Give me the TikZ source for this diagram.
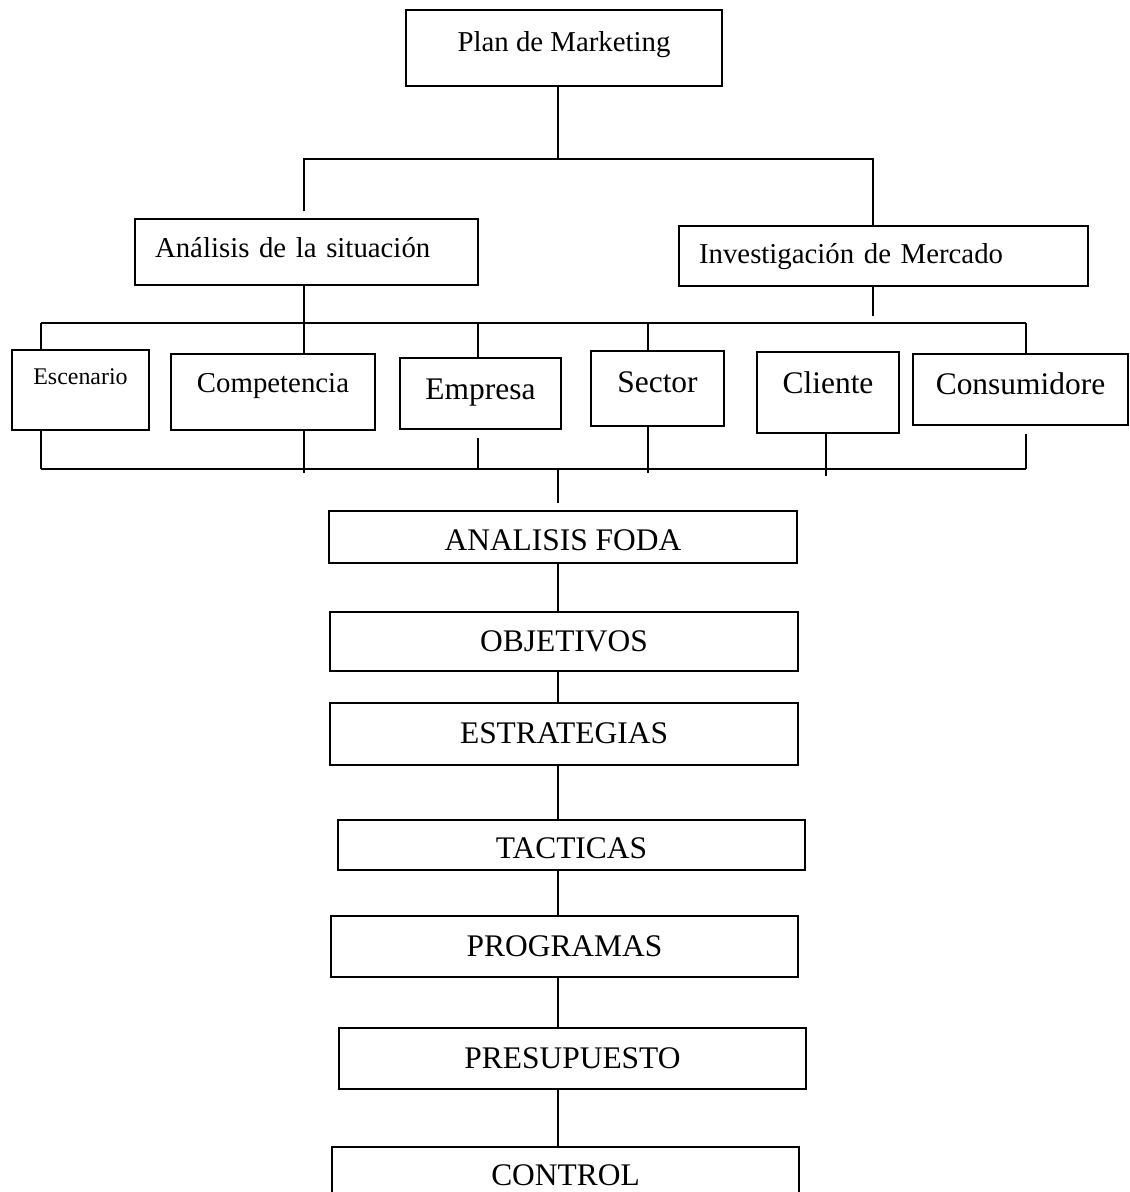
\documentclass[tikz,border=0pt]{standalone}
\usepackage{fontspec}
\setmainfont{Liberation Serif}
\begin{document}
\begin{tikzpicture}[x=0.02cm, y=-0.02cm,
      B/.style={draw, line width=0.9pt, inner sep=0pt, text height=11pt, text depth=0pt, font=\fontsize{17.9}{21}\selectfont},
      F/.style={font=\fontsize{16.4}{19}\selectfont},
      L/.style={align=left, inner xsep=0.4cm, text width=#1},
      sube/.style={text depth=#1},
      C/.style={line width=0.7pt}
    ]
    \useasboundingbox (0,0) rectangle (1129,1192);
    \clip (0,0) rectangle (1129,1192);
    % cabecera
    \draw (564,48) node [B, F, minimum width=6.32cm, minimum height=1.52cm, sube=6.8pt] (plan) {Plan de Marketing};
    \draw (306.5,252) node [B, F, L=6.06cm, minimum height=1.32cm, sube=4.5pt] (analisis) {Análisis de la situación};
    \draw (883.5,256) node [B, F, L=7.38cm, minimum height=1.2cm, sube=2.3pt] (investigacion) {Investigación de Mercado};
    % fila de seis
    \draw (80.5,390) node [B, font=\fontsize{13.6}{16}\selectfont, text height=9pt, minimum width=2.74cm, minimum height=1.6cm, sube=15.8pt] (escenario) {Escenario};
    \draw (273,392) node [B, F, minimum width=4.08cm, minimum height=1.52cm, sube=10.2pt] (competencia) {Competencia};
    \draw (480.5,393.5) node [B, minimum width=3.22cm, minimum height=1.42cm, sube=4.5pt] (empresa) {Empresa};
    \draw (657.5,388.5) node [B, minimum width=2.66cm, minimum height=1.5cm, sube=6.8pt] (sector) {Sector};
    \draw (828,392.5) node [B, minimum width=2.84cm, minimum height=1.62cm, sube=10.2pt] (cliente) {Cliente};
    \draw (1020.5,389.5) node [B, minimum width=4.3cm, minimum height=1.42cm, sube=5.7pt] (consumidores) {Consumidore};
    % cadena
    \draw (563,537) node [B, minimum width=9.36cm, minimum height=1.04cm, text height=15.5pt] (foda) {ANALISIS FODA};
    \draw (564,641.5) node [B, minimum width=9.36cm, minimum height=1.18cm] (objetivos) {OBJETIVOS};
    \draw (564,734) node [B, minimum width=9.36cm, minimum height=1.24cm] (estrategias) {ESTRATEGIAS};
    \draw (571.5,845) node [B, minimum width=9.34cm, minimum height=1cm, text height=15.5pt] (tacticas) {TACTICAS};
    \draw (564.5,946.5) node [B, minimum width=9.34cm, minimum height=1.22cm] (programas) {PROGRAMAS};
    \draw (572.5,1058.5) node [B, minimum width=9.34cm, minimum height=1.22cm] (presupuesto) {PRESUPUESTO};
    \draw (565.5,1176) node [B, minimum width=9.34cm, minimum height=1.16cm] (control) {CONTROL};
    % lineas
    \coordinate (eje) at (558,0);
    \coordinate (r1) at (558,159);
    \coordinate (r1i) at (304,159);
    \coordinate (r1d) at (873,159);
    \coordinate (r2i) at (41,323);
    \coordinate (r2d) at (1026,323);
    \coordinate (r3i) at (41,469);
    \coordinate (r3d) at (1026,469);
    \draw [C] (plan.south -| r1) -- (r1);
    \draw [C, shorten <=4pt] (analisis.north -| r1i) -- (r1i) -- (r1d) -- (investigacion.north -| r1d);
    \draw [C] (r2i) -- (r2d);
    \draw [C] (analisis.south -| r1i) -- (competencia.north -| r1i);
    \draw [C, shorten >=4pt] (investigacion.south -| r1d) -- (r1d |- r2d);
    \foreach \n/\x in {escenario/41, empresa/478, sector/648, consumidores/1026} {
      \coordinate (p) at (\x,323);
      \draw [C] (p) -- (p |- \n.north);
    }
    \foreach \n/\x/\s/\e in {escenario/41/0pt/0pt, competencia/304/-2pt/0pt, empresa/478/0pt/4.5pt, sector/648/-2pt/0pt, cliente/826/-4pt/0pt, consumidores/1026/0pt/4.5pt} {
      \coordinate (q) at (\x,469);
      \draw [C, shorten <=\s, shorten >=\e] (q) -- (q |- \n.south);
    }
    \draw [C] (r3i) -- (r3d);
    \draw [C, shorten >=4pt] (r3i -| eje) -- (foda.north -| eje);
    \foreach \a/\b in {foda/objetivos, objetivos/estrategias, estrategias/tacticas, tacticas/programas, programas/presupuesto, presupuesto/control}
      \draw [C] (\a.south -| eje) -- (\b.north -| eje);
\end{tikzpicture}
\end{document}
